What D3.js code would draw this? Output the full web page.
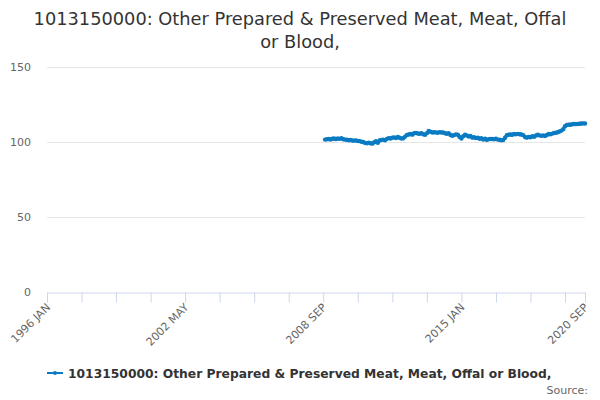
<!DOCTYPE html>
<html>
<head>
<meta charset="utf-8">
<script src="https://cdn.jsdelivr.net/npm/d3@7"></script>
<style>
  body { margin: 0; background: #fff; }
  svg { font-family: "DejaVu Sans", sans-serif; }
  .grid line { stroke: #e6e6e6; }
  .ylab { fill: #666; font-size: 11px; }
  .xlab { fill: #666; font-size: 11px; }
  .title { fill: #333; font-size: 17.8px; }
</style>
</head>
<body>
<div id="chart"></div>
<script>
(function(){

  var seriesName = '1013150000: Other Prepared & Preserved Meat, Meat, Offal or Blood,';
  var titleLines = ['1013150000: Other Prepared & Preserved Meat, Meat, Offal', 'or Blood,'];

  var monthNames = ['JAN','FEB','MAR','APR','MAY','JUN','JUL','AUG','SEP','OCT','NOV','DEC'];
  var firstYear = 1996, lastYear = 2020, lastMonth = 8; // through 2020 SEP

  // category labels, one per month
  var categories = [];
  for (var yr = firstYear; yr <= lastYear; yr++) {
    for (var m = 0; m < 12; m++) {
      if (yr === lastYear && m > lastMonth) break;
      categories.push(yr + ' ' + monthNames[m]);
    }
  }

  var yTicks = [0, 50, 100, 150];
  var xLabelTicks = ['1996 JAN', '2002 MAY', '2008 SEP', '2015 JAN', '2020 SEP'];

  // series begins 2008 OCT
  var seriesStart = '2008 OCT';
  var values = [
    101.6, 101.8, 102.0, 101.7, 102.2,
    102.3, 101.9, 102.4, 102.1, 102.5,
    101.8, 101.6, 101.5, 101.2, 101.3,
    101.0, 100.9, 101.1, 100.7, 100.6,
    100.2, 100.0, 99.4, 99.1, 99.6,
    99.2, 98.9, 99.8, 100.5, 99.5,
    101.0, 101.4, 101.6, 101.2, 102.1,
    102.6, 102.3, 102.9, 103.1, 102.6,
    103.3, 102.8, 102.3, 102.5, 103.6,
    104.7, 105.0, 105.3, 104.9, 105.8,
    106.1, 105.7, 105.5, 105.9, 105.2,
    104.8, 105.9, 107.3, 106.8, 106.3,
    106.5, 106.4, 106.2, 106.6, 106.3,
    106.4, 105.8, 105.5, 105.9, 104.7,
    104.2, 104.6, 105.1, 104.8, 103.4,
    102.3, 103.9, 104.9, 104.3, 103.6,
    104.0, 102.9, 103.2, 102.6, 102.9,
    102.2, 102.5, 101.6, 102.2, 101.4,
    101.9, 102.1, 102.0, 101.8, 102.2,
    101.6, 101.5, 101.1, 101.3, 102.8,
    104.5, 104.9, 105.0, 104.8, 105.3,
    105.1, 105.4, 105.2, 105.0, 104.6,
    103.3, 102.9, 103.4, 103.2, 103.8,
    103.5, 104.3, 104.9, 104.4, 104.1,
    104.4, 104.0, 104.7, 105.3, 105.1,
    105.6, 106.0, 106.2, 106.5, 107.0,
    107.6, 108.5, 110.5, 111.4, 111.6,
    111.5, 111.8, 112.0, 111.9, 112.1,
    112.2, 112.3, 112.4, 112.3
  ];

  var color = '#0a7bc2';

  var W = 600, H = 400;
  var margin = { top: 67, left: 47, right: 15, bottom: 108 };
  var width = W - margin.left - margin.right;
  var height = H - margin.top - margin.bottom;

  var x = d3.scalePoint().domain(categories).range([0, width]);
  var y = d3.scaleLinear().domain([0, 150]).range([height, 0]);

  var startIdx = categories.indexOf(seriesStart);
  var data = values.map(function(v, i){ return [categories[startIdx + i], v]; });

  var svg = d3.select('#chart').append('svg')
      .attr('width', W).attr('height', H);

  // title
  svg.append('text')
      .attr('class', 'title')
      .attr('x', W / 2).attr('y', 25)
      .attr('text-anchor', 'middle')
    .selectAll('tspan')
    .data(titleLines)
    .enter().append('tspan')
      .attr('x', W / 2)
      .attr('dy', function(d, i){ return i ? 23 : 0; })
      .text(function(d){ return d; });

  var g = svg.append('g')
      .attr('transform', 'translate(' + margin.left + ',' + margin.top + ')');

  // gridlines and y labels
  var grid = g.append('g').attr('class', 'grid');
  grid.selectAll('line')
    .data(yTicks.filter(function(d){ return d > 0; }))
    .enter().append('line')
      .attr('x1', 0).attr('x2', width)
      .attr('y1', function(d){ return Math.round(y(d)) + 0.5; })
      .attr('y2', function(d){ return Math.round(y(d)) + 0.5; });

  g.append('g').selectAll('text')
    .data(yTicks)
    .enter().append('text')
      .attr('class', 'ylab')
      .attr('x', -16)
      .attr('y', function(d){ return y(d) + 4; })
      .attr('text-anchor', 'end')
      .text(function(d){ return d; });

  // x axis: tick every 19 months, label every 4th tick
  var xTickVals = categories.filter(function(d, i){ return i % 19 === 0; });
  xTickVals.push(categories[categories.length - 1]);

  var xAxis = d3.axisBottom(x)
      .tickValues(xTickVals)
      .tickSize(10)
      .tickSizeOuter(0)
      .tickFormat('');

  var ax = g.append('g')
      .attr('transform', 'translate(0,' + (height + 0.5) + ')')
      .call(xAxis);
  ax.select('.domain').attr('stroke', '#ccd6eb');
  ax.selectAll('.tick line').attr('stroke', '#ccd6eb');

  g.append('g').selectAll('text')
    .data(xLabelTicks)
    .enter().append('text')
      .attr('class', 'xlab')
      .attr('text-anchor', 'end')
      .attr('transform', function(d){
        return 'translate(' + (x(d) + 4) + ',' + (height + 16) + ') rotate(-45)';
      })
      .text(function(d){ return d; });

  // series
  var line = d3.line()
      .x(function(d){ return x(d[0]); })
      .y(function(d){ return y(d[1]); });

  g.append('path')
    .datum(data)
    .attr('fill', 'none')
    .attr('stroke', color)
    .attr('stroke-width', 3)
    .attr('stroke-linejoin', 'round')
    .attr('stroke-linecap', 'round')
    .attr('d', line);

  g.append('g').selectAll('circle')
    .data(data)
    .enter().append('circle')
      .attr('cx', function(d){ return x(d[0]); })
      .attr('cy', function(d){ return y(d[1]); })
      .attr('r', 2.2)
      .attr('fill', color);

  // legend
  var lg = svg.append('g').attr('transform', 'translate(47,373)');
  lg.append('line')
    .attr('x1', 0).attr('x2', 16)
    .attr('stroke', color).attr('stroke-width', 2);
  lg.append('circle').attr('cx', 8).attr('r', 2).attr('fill', color);
  lg.append('text')
    .attr('x', 21).attr('y', 5)
    .attr('fill', '#333')
    .attr('font-size', '12.3px')
    .attr('font-weight', 'bold')
    .text(seriesName);

  svg.append('text')
    .attr('x', 588).attr('y', 394)
    .attr('text-anchor', 'end')
    .attr('fill', '#666')
    .attr('font-size', '11px')
    .text('Source:');

})();
</script>
</body>
</html>
